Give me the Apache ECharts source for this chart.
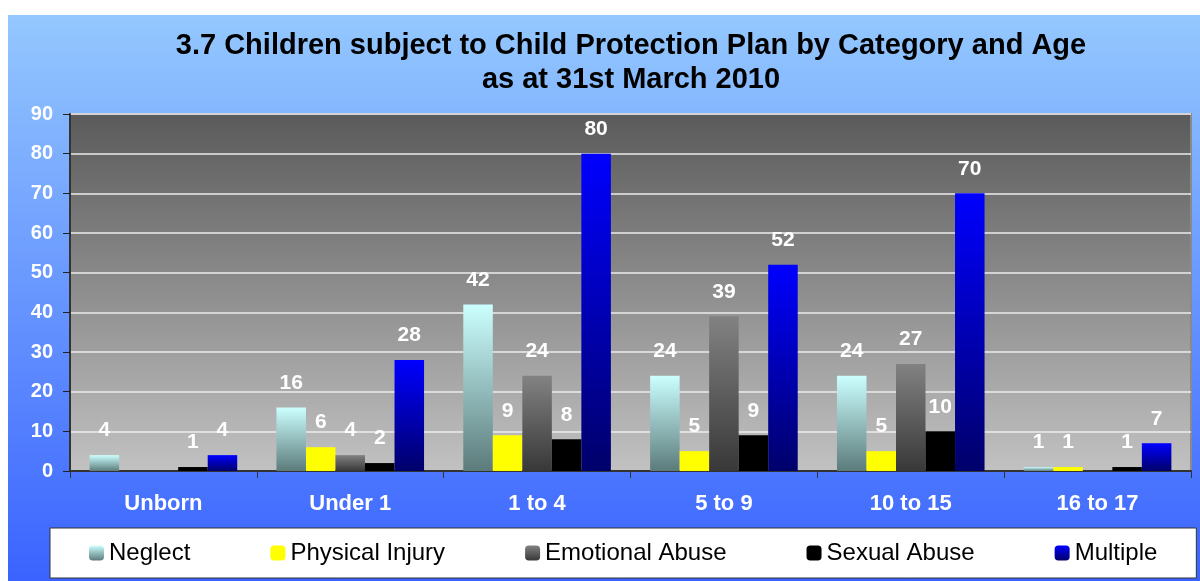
<!DOCTYPE html>
<html>
<head>
<meta charset="utf-8">
<script src="https://cdn.jsdelivr.net/npm/echarts@6/dist/echarts.min.js"></script>
<style>
  html, body { margin: 0; padding: 0; background: #fff; }
  #main { width: 1200px; height: 581px; }
</style>
</head>
<body>
<div id="main"></div>
<script>
// categories and values
let ageGroups = ['Unborn', 'Under 1', '1 to 4', '5 to 9', '10 to 15', '16 to 17']
let neglect = [4, 16, 42, 24, 24, 1]
let physicalInjury = [0, 6, 9, 5, 5, 1]
let emotionalAbuse = [0, 4, 24, 39, 27, 0]
let sexualAbuse = [1, 2, 8, 9, 10, 1]
let multiple = [4, 28, 80, 52, 70, 7]
let yTicks = [0, 10, 20, 30, 40, 50, 60, 70, 80, 90]

let font = 'Liberation Sans, Arial, sans-serif'
let chart = echarts.init(document.getElementById('main'))

function grad(top, bottom) {
  return new echarts.graphic.LinearGradient(0, 0, 0, 1, [
    { offset: 0, color: top },
    { offset: 1, color: bottom }
  ])
}

function makeSeries(name, data, color) {
  return {
    name: name,
    type: 'bar',
    data: data,
    barGap: '0%',
    barCategoryGap: '21%',
    itemStyle: { color: color },
    label: {
      show: true,
      position: 'top',
      distance: 14,
      color: '#fff',
      fontSize: 21,
      fontWeight: 'bold',
      fontFamily: font,
      // zero values carry no label in the original
      formatter: function (p) { return p.value ? p.value : '' }
    }
  }
}

let option = {
  animation: false,
  textStyle: { fontFamily: font },
  graphic: [
    {
      type: 'rect',
      z: -10,
      silent: true,
      shape: { x: 8, y: 15, width: 1192, height: 566 },
      style: { fill: grad('#94c8fe', '#3a63ff') }
    }
  ],
  title: {
    text: '3.7 Children subject to Child Protection Plan by Category and Age\nas at 31st March 2010',
    left: 626, // title sits a little right of page centre
    textAlign: 'center',
    top: 24,
    textStyle: {
      fontSize: 29,
      fontWeight: 'bold',
      color: '#000',
      lineHeight: 34,
      fontFamily: font
    }
  },
  grid: {
    left: 70,
    right: 9,
    top: 114,
    bottom: 110,
    show: true,
    backgroundColor: grad('#5a5a5a', '#c2c2c2'),
    borderColor: '#8a8a8a',
    borderWidth: 2
  },
  legend: {
    left: 50,
    top: 528,
    padding: [13, 39],
    itemGap: 80,
    itemWidth: 15,
    itemHeight: 15,
    backgroundColor: '#fff',
    borderColor: '#333',
    borderWidth: 1,
    textStyle: { fontSize: 24, color: '#000', fontFamily: font }
  },
  xAxis: {
    type: 'category',
    data: ageGroups,
    axisLine: { show: true, lineStyle: { color: '#333', width: 2 } },
    axisTick: { show: true, length: 7, lineStyle: { color: '#333' } },
    axisLabel: { color: '#fff', fontSize: 22, fontWeight: 'bold', margin: 22 }
  },
  yAxis: {
    type: 'value',
    min: yTicks[0],
    max: yTicks[yTicks.length - 1],
    interval: 10,
    axisLine: { show: true, lineStyle: { color: '#333', width: 2 } },
    axisTick: { show: true, length: 7, lineStyle: { color: '#222' } },
    axisLabel: { color: '#fff', fontSize: 20, fontWeight: 'bold', margin: 17 },
    splitLine: { lineStyle: { color: '#ececec', width: 1.5 } }
  },
  series: [
    makeSeries('Neglect', neglect, grad('#ccffff', '#5c7b7b')),
    makeSeries('Physical Injury', physicalInjury, '#ffff00'),
    makeSeries('Emotional Abuse', emotionalAbuse, grad('#828282', '#383838')),
    makeSeries('Sexual Abuse', sexualAbuse, '#000000'),
    makeSeries('Multiple', multiple, grad('#0000ff', '#00006a'))
  ]
}

chart.setOption(option)
</script>
</body>
</html>
